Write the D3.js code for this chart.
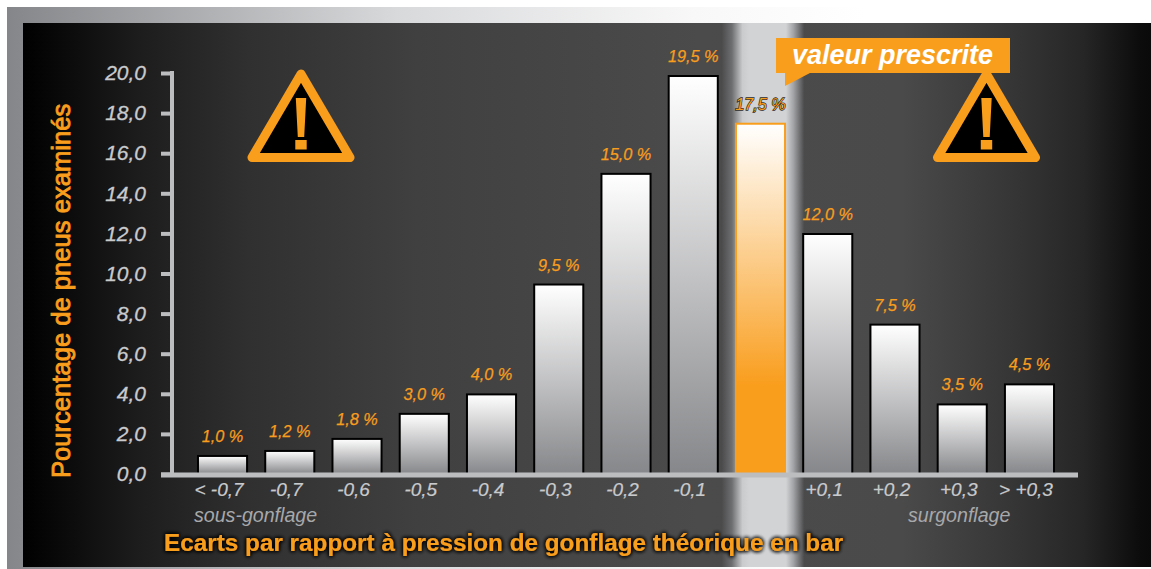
<!DOCTYPE html>
<html>
<head>
<meta charset="utf-8">
<style>
  html, body { margin: 0; padding: 0; background: #fff; }
  svg { display: block; font-family: "Liberation Sans", Arial, sans-serif; }
</style>
<script src="https://cdn.jsdelivr.net/npm/d3@7"></script>
</head>
<body>
<svg id="chart" width="1151" height="569"></svg>
<script>
const categories = ["< -0,7", "-0,7", "-0,6", "-0,5", "-0,4", "-0,3", "-0,2", "-0,1", "prescrite", "+0,1", "+0,2", "+0,3", "> +0,3"];
// bar heights as drawn in the picture (the 19,5 % bar really goes up to about 19.8)
const barValues = [0.9, 1.15, 1.75, 3.0, 3.97, 9.45, 14.97, 19.85, 17.47, 11.97, 7.45, 3.47, 4.47];
const valueLabels = ["1,0 %", "1,2 %", "1,8 %", "3,0 %", "4,0 %", "9,5 %", "15,0 %", "19,5 %", "17,5 %", "12,0 %", "7,5 %", "3,5 %", "4,5 %"];
const yTicks = [0, 2, 4, 6, 8, 10, 12, 14, 16, 18, 20];
const warningCentres = [301, 986.5];

const orange = "#f99d1c";
const svg = d3.select("#chart");
const defs = svg.append("defs");

function gradient(id, stops, vertical) {
  const g = defs.append("linearGradient").attr("id", id)
    .attr("x1", 0).attr("y1", 0)
    .attr("x2", vertical ? 0 : 1).attr("y2", vertical ? 1 : 0);
  stops.forEach(s => g.append("stop").attr("offset", s[0]).attr("stop-color", s[1]));
}

gradient("frameGrad", [[0, "#858689"], [0.34, "#d8d9db"], [0.6, "#f8f8f8"], [0.75, "#ffffff"], [1, "#ffffff"]]);
gradient("bgGrad", [
  [0, "#000000"], [0.1, "#1c1c1d"], [0.2, "#303031"], [0.35, "#404041"], [0.6, "#4b4b4c"],
  [0.78, "#4a4a4b"], [0.88, "#353536"], [0.94, "#262626"], [0.99, "#0c0c0c"], [1, "#0a0a0a"]
]);
gradient("bandGrad", [
  [0, "#4c4c4d"], [0.12, "#6d6e70"], [0.25, "#c9cbcd"], [0.33, "#d1d3d5"],
  [0.78, "#d1d3d5"], [0.87, "#a3a4a7"], [1, "#4c4c4d"]
]);
gradient("barGrad", [[0, "#ffffff"], [1, "#86878a"]], true);
gradient("peakGrad", [[0, "#ffffff"], [0.75, orange], [1, orange]], true);

const blur = defs.append("filter").attr("id", "glow")
  .attr("x", "-5%").attr("y", "-30%").attr("width", "110%").attr("height", "160%");
blur.append("feGaussianBlur").attr("in", "SourceAlpha").attr("stdDeviation", 2.2).attr("result", "b");
blur.append("feFlood").attr("flood-color", "#000").attr("flood-opacity", 1);
blur.append("feComposite").attr("in2", "b").attr("operator", "in").attr("result", "s");
const merge = blur.append("feMerge");
merge.append("feMergeNode").attr("in", "s");
merge.append("feMergeNode").attr("in", "s");
merge.append("feMergeNode").attr("in", "s");
merge.append("feMergeNode").attr("in", "SourceGraphic");

// background
svg.append("rect").attr("x", 7).attr("y", 7).attr("width", 1144).attr("height", 562).attr("fill", "url(#frameGrad)");
svg.append("rect").attr("x", 23).attr("y", 23).attr("width", 1128).attr("height", 544).attr("fill", "url(#bgGrad)");
svg.append("rect").attr("x", 722).attr("y", 23).attr("width", 82).attr("height", 544).attr("fill", "url(#bandGrad)");

const x = d3.scaleBand().domain(categories).range([188.9, 1063.1]).paddingInner(0.27).paddingOuter(0.135);
const y = d3.scaleLinear().domain([0, 20]).range([474, 73]);

// bars
svg.append("g").selectAll("rect")
  .data(categories)
  .join("rect")
  .attr("x", d => x(d))
  .attr("width", x.bandwidth())
  .attr("y", (d, i) => y(barValues[i]))
  .attr("height", (d, i) => y(0) - y(barValues[i]))
  .attr("fill", d => d === "prescrite" ? "url(#peakGrad)" : "url(#barGrad)")
  .attr("stroke", d => d === "prescrite" ? orange : "#000")
  .attr("stroke-width", 2);

// y axis
const yAxis = svg.append("g").attr("transform", "translate(172,0)")
  .call(d3.axisLeft(y).tickValues(yTicks).tickSize(11).tickPadding(15)
    .tickFormat(d => d.toFixed(1).replace(".", ",")));
yAxis.select(".domain").remove();
yAxis.selectAll("line").attr("stroke", "#bcbdbf").attr("stroke-width", 4);
yAxis.selectAll("text").attr("fill", "#c9cacc").attr("stroke", "#c9cacc").attr("stroke-width", 0.3)
  .attr("font-size", 21).attr("font-style", "italic");
svg.append("line").attr("x1", 172).attr("x2", 172).attr("y1", y(20) - 2).attr("y2", y(0))
  .attr("stroke", "#bcbdbf").attr("stroke-width", 4);

// x axis
const xAxis = svg.append("g").attr("transform", "translate(0,475)")
  .call(d3.axisBottom(x).tickSize(0).tickPadding(8)
    .tickFormat(d => d === "prescrite" ? "" : d));
xAxis.select(".domain").remove();
xAxis.selectAll("text").attr("dx", -3.5).attr("fill", "#c9cacc").attr("stroke", "#c9cacc").attr("stroke-width", 0.2)
  .attr("font-size", 19).attr("font-style", "italic");
svg.append("line").attr("x1", 161).attr("x2", 1078).attr("y1", 475).attr("y2", 475)
  .attr("stroke", "#bcbdbf").attr("stroke-width", 5);

// value labels
svg.append("g").selectAll("text")
  .data(categories)
  .join("text")
  .attr("x", d => x(d) + x.bandwidth() / 2)
  .attr("y", (d, i) => y(barValues[i]) - 14)
  .attr("text-anchor", "middle")
  .attr("font-size", 16.3)
  .attr("font-style", "italic")
  .attr("fill", orange)
  .attr("stroke", d => d === "prescrite" ? "#2a2a2a" : orange)
  .attr("stroke-width", d => d === "prescrite" ? 1.3 : 0.25)
  .attr("paint-order", "stroke")
  .text((d, i) => valueLabels[i]);

// side notes under the axis
svg.append("text").attr("x", 194).attr("y", 522).attr("font-size", 19.6).attr("font-style", "italic")
  .attr("fill", "#a7a8aa").text("sous-gonflage");
svg.append("text").attr("x", 908).attr("y", 522).attr("font-size", 19.6).attr("font-style", "italic")
  .attr("fill", "#a7a8aa").text("surgonflage");

// axis titles
svg.append("text").attr("x", 164).attr("y", 551).attr("font-size", 24.3).attr("font-weight", "bold")
  .attr("fill", orange).attr("filter", "url(#glow)")
  .text("Ecarts par rapport à pression de gonflage théorique en bar");
svg.append("text").attr("transform", "translate(70,478) rotate(-90)")
  .attr("font-size", 25.6).attr("fill", orange).attr("stroke", orange).attr("stroke-width", 0.9)
  .text("Pourcentage de pneus examinés");

// warning triangles
const warn = svg.append("g").selectAll("g").data(warningCentres).join("g")
  .attr("transform", d => `translate(${d},0)`);
warn.append("path")
  .attr("d", "M0,74L49,157.5L-49,157.5Z")
  .attr("fill", "#000").attr("stroke", orange).attr("stroke-width", 9).attr("stroke-linejoin", "round");
warn.append("path")
  .attr("d", "M-5.2,98L5.2,98L3.2,137L-3.2,137Z M-5.7,140L5.7,140L5.7,149.5L-5.7,149.5Z")
  .attr("fill", orange);

// callout
svg.append("path")
  .attr("d", "M776,38L1010,38L1010,73L810,73L785,86L785,73L776,73Z")
  .attr("fill", orange);
svg.append("text").attr("x", 792).attr("y", 64).attr("font-size", 27)
  .attr("font-weight", "bold").attr("font-style", "italic").attr("fill", "#fff")
  .text("valeur prescrite");
</script>
</body>
</html>
